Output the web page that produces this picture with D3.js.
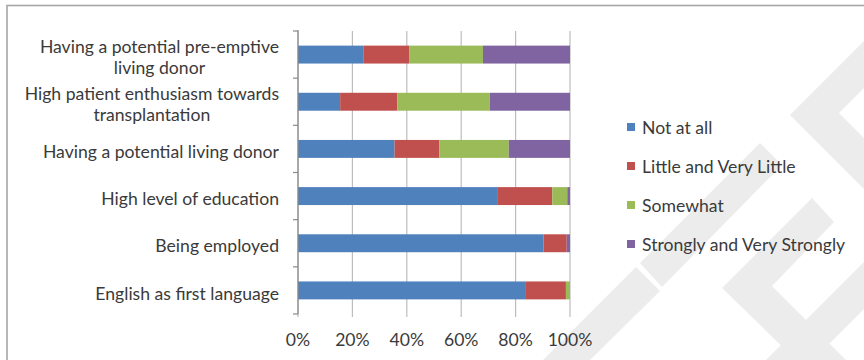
<!DOCTYPE html>
<html>
<head>
<meta charset="utf-8">
<script src="https://cdn.jsdelivr.net/npm/d3@7"></script>
<style>
  html, body { margin: 0; padding: 0; background: #ffffff; }
  svg { display: block; }
  text { font-family: Lato, "Open Sans", "Noto Sans", sans-serif; fill: #3a3a3a; }
</style>
</head>
<body>
<svg id="chart" width="864" height="360"></svg>
<script>
// ---- data (top to bottom) ----
const categories = [
  "Having a potential pre-emptive\nliving donor",
  "High patient enthusiasm towards\ntransplantation",
  "Having a potential living donor",
  "High level of education",
  "Being employed",
  "English as first language"
];
const seriesNames = ["Not at all", "Little and Very Little", "Somewhat", "Strongly and Very Strongly"];
const notAtAll = [24, 15.5, 35.5, 73.5, 90.3, 83.5];
const littleVeryLittle = [17, 21, 16.5, 20, 8.5, 15];
const somewhat = [27, 34, 25.5, 5.5, 0, 1.5];
const stronglyVeryStrongly = [32, 29.5, 22.5, 1, 1.2, 0];
const xTickValues = [0, 20, 40, 60, 80, 100];
const seriesColors = ["#4f81bd", "#c0504d", "#9bbb59", "#8064a2"];

const seriesValues = [notAtAll, littleVeryLittle, somewhat, stronglyVeryStrongly];
const table = categories.map((c, i) => {
  const row = { category: c };
  seriesNames.forEach((s, k) => row[s] = seriesValues[k][i]);
  return row;
});

const svg = d3.select("#chart");
const FS = 17.6;

// ---- watermark (decorative light-grey shapes) ----
const wm = svg.append("g").attr("fill", "#ececec");
const wmShapes = [
  [[790,115],[864,41],[864,88],[839,113],[864,138],[864,189]],
  [[760,143],[782,165],[662,287],[640,263]],
  [[636,267],[660,291],[590,360],[543,360]],
  [[722,288],[812,198],[834,222],[772,286],[846,360],[796,360]],
  [[864,262],[864,309],[813,360],[766,360]]
];
wmShapes.forEach(p => wm.append("polygon").attr("points", p.map(d => d.join(",")).join(" ")));

// ---- scales ----
const x = d3.scaleLinear().domain([0, 100]).range([298, 570]);
const y = d3.scaleBand().domain(categories).range([31, 314]).paddingInner(0.62).paddingOuter(0.31);

// ---- gridlines ----
const gridTop = 31, gridBottom = 317;
svg.append("g").selectAll("line").data(xTickValues).join("line")
  .attr("x1", d => x(d)).attr("x2", d => x(d))
  .attr("y1", gridTop).attr("y2", gridBottom)
  .attr("stroke", "#bdbdbd").attr("stroke-width", 1.2);

// ---- stacked bars ----
const stack = d3.stack().keys(seriesNames)(table);
const color = d3.scaleOrdinal().domain(seriesNames).range(seriesColors);
svg.append("g").selectAll("g").data(stack).join("g")
  .attr("fill", d => color(d.key))
  .selectAll("rect").data(d => d).join("rect")
  .attr("x", d => x(d[0]))
  .attr("width", d => Math.max(0, x(d[1]) - x(d[0])))
  .attr("y", d => y(d.data.category))
  .attr("height", y.bandwidth());

// ---- y axis line and boundary ticks ----
const yr = y.range();
svg.append("line").attr("x1", x(0)).attr("x2", x(0)).attr("y1", yr[0] - 1).attr("y2", yr[1])
  .attr("stroke", "#8a8a8a").attr("stroke-width", 1.2);
const boundaries = d3.range(categories.length + 1).map(i => yr[0] + i * y.step());
svg.append("g").selectAll("line").data(boundaries).join("line")
  .attr("x1", x(0) - 5).attr("x2", x(0))
  .attr("y1", d => d).attr("y2", d => d)
  .attr("stroke", "#8a8a8a").attr("stroke-width", 1.2);

// ---- category labels ----
const labelG = svg.append("g").attr("font-size", FS);
categories.forEach(c => {
  const lines = c.split("\n");
  const cy = y(c) + y.bandwidth() / 2 + 3;
  const lh = 21;
  const g = labelG.append("g");
  const texts = lines.map((ln, i) => g.append("text")
    .attr("y", cy + (i - (lines.length - 1) / 2) * lh)
    .attr("dy", "0.35em")
    .text(ln));
  const widths = texts.map(t => t.node().getComputedTextLength());
  const maxW = d3.max(widths);
  texts.forEach((t, i) => t.attr("x", 279 - maxW + (maxW - widths[i]) / 2));
});

// ---- x tick labels ----
svg.append("g").attr("font-size", FS).selectAll("text").data(xTickValues).join("text")
  .attr("x", d => x(d)).attr("y", 340).attr("dy", "0.35em")
  .attr("text-anchor", "middle")
  .text(d => d + "%");

// ---- legend ----
const legendY = [128, 167, 206, 245];
const leg = svg.append("g").attr("font-size", FS);
seriesNames.forEach((s, i) => {
  leg.append("rect").attr("x", 627).attr("y", legendY[i] - 5).attr("width", 8).attr("height", 8).attr("fill", color(s));
  leg.append("text").attr("x", 642).attr("y", legendY[i]).attr("dy", "0.35em").text(s);
});

// ---- outer frame ----
svg.append("rect").attr("x", 7).attr("y", 5.5).attr("width", 900).attr("height", 400)
  .attr("fill", "none").attr("stroke", "#a6a6a6").attr("stroke-width", 1.6);
</script>
</body>
</html>
